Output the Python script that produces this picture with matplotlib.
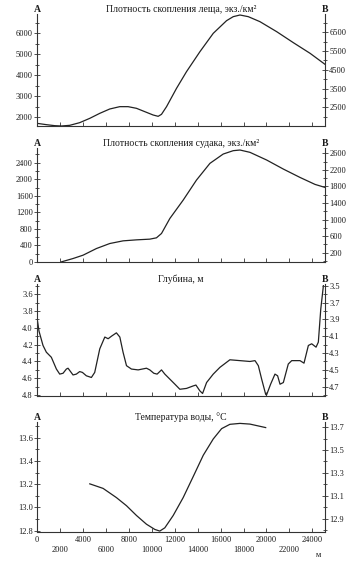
import matplotlib
matplotlib.use('Agg')
import matplotlib.pyplot as plt
from matplotlib.ticker import MultipleLocator, FixedLocator, FuncFormatter

plt.rcParams['font.family'] = ['Liberation Serif', 'DejaVu Serif']
plt.rcParams['text.color'] = '#1a1a1a'
plt.rcParams['axes.edgecolor'] = '#333333'
plt.rcParams['xtick.color'] = '#333333'
plt.rcParams['ytick.color'] = '#333333'
plt.rcParams['xtick.labelcolor'] = '#1a1a1a'
plt.rcParams['ytick.labelcolor'] = '#1a1a1a'

# Data (distance along transect, m)
bream_x = [0, 815, 1540, 2124, 2850, 3720, 4600, 5470, 6340, 7215, 7940, 8670, 9540,
           10120, 10560, 10850, 11290, 12160, 13030, 14200, 15360, 16520, 17100, 17690,
           18415, 19430, 20890, 22340, 23800, 25100]
bream_y = [1714, 1651, 1603, 1587, 1619, 1746, 1952, 2190, 2397, 2508, 2508, 2429, 2238,
           2111, 2048, 2143, 2508, 3381, 4175, 5127, 6000, 6603, 6794, 6873,
           6794, 6556, 6079, 5556, 5048, 4524]

zander_x = [2124, 3140, 4015, 5180, 6340, 7505, 8670, 9830, 10410, 10850, 11580, 12740,
            13900, 15070, 16230, 17100, 17690, 18560, 20015, 21470, 22920, 24230, 25100]
zander_y = [0, 81, 162, 323, 444, 509, 533, 550, 582, 687, 1051, 1495,
            1980, 2384, 2610, 2691, 2707, 2651, 2465, 2246, 2044, 1875, 1802]

depth_x = [0, 175, 524, 815, 1250, 1690, 1980, 2270, 2560, 2705, 3140, 3430, 3720, 3960,
           4300, 4740, 5030, 5470, 5910, 6200, 6490, 6920, 7220, 7500, 7800, 8230, 8815,
           9540, 9830, 10180, 10470, 10850, 11140, 11580, 12020, 12450, 13030, 13620,
           13850, 14200, 14430, 14780, 15360, 15940, 16810, 17690, 18560, 19000, 19290,
           19580, 19930, 20000, 20360, 20740, 20970, 21180, 21470, 21900, 22200, 22920,
           23270, 23650, 23940, 24320, 24520, 24730, 24960]
depth_y = [3.88, 4.04, 4.21, 4.29, 4.35, 4.49, 4.55, 4.54, 4.49, 4.48, 4.56, 4.55, 4.52, 4.53,
           4.57, 4.59, 4.53, 4.25, 4.11, 4.13, 4.10, 4.06, 4.11, 4.29, 4.45, 4.49, 4.50,
           4.48, 4.50, 4.54, 4.55, 4.50, 4.55, 4.61, 4.67, 4.73, 4.72, 4.69,
           4.68, 4.75, 4.78, 4.65, 4.55, 4.47, 4.38, 4.39, 4.40, 4.39, 4.45,
           4.61, 4.79, 4.80, 4.67, 4.55, 4.57, 4.67, 4.65, 4.43, 4.39, 4.39,
           4.42, 4.21, 4.19, 4.23, 4.17, 3.78, 3.50]

temp_x = [4600, 5760, 6920, 7800, 8670, 9540, 10270, 10700, 11140, 11870, 12740, 13620,
          14490, 15360, 16090, 16810, 17690, 18560, 19930]
temp_y = [13.203, 13.164, 13.085, 13.015, 12.931, 12.856, 12.811, 12.797, 12.825, 12.931,
          13.085, 13.267, 13.449, 13.589, 13.678, 13.715, 13.723, 13.717, 13.687]

titles = ['Плотность скопления леща, экз./км²',
          'Плотность скопления судака, экз./км²',
          'Глубина, м',
          'Температура воды, °С']

fig = plt.figure(figsize=(3.5, 5.64), dpi=100)

# panel geometry in pixels: (top, bottom)
W, H = 350, 564
x0, x1 = 37, 325
rows = [(14, 126), (148, 262), (284, 396), (422, 532)]

# (left ylim, left major, left minor, right ylim, right major, right minor, invert)
specs = [
    ((1587, 6921), 1000, 500, (1504, 7478), [2500, 3500, 4500, 5500, 6500], 500, False),
    ((-3, 2756), 400, 200, (-26, 2730), [200, 600, 1000, 1400, 1800, 2200, 2600], 200, False),
    ((3.48, 4.81), 0.2, 0.1, (3.48, 4.81), [3.5, 3.7, 3.9, 4.1, 4.3, 4.5, 4.7], 0.1, True),
    ((12.789, 13.735), 0.2, 0.1, (12.783, 13.745), [12.9, 13.1, 13.3, 13.5, 13.7], 0.1, False),
]
series = [(bream_x, bream_y), (zander_x, zander_y), (depth_x, depth_y), (temp_x, temp_y)]
fs_tick = 6
fs_title = 7

for i, ((top, bot), spec, (xs, ys), title) in enumerate(zip(rows, specs, series, titles)):
    lylim, lmaj, lmin, rylim, rmaj, rmin, inv = spec
    ax = fig.add_axes([x0 / W, 1 - bot / H, (x1 - x0) / W, (bot - top) / H])
    ax.plot(xs, ys, color='#222222', lw=0.9)
    ax.set_xlim(0, 25100)
    if inv:
        ax.set_ylim(lylim[1], lylim[0])
    else:
        ax.set_ylim(*lylim)
    ax.spines['top'].set_visible(False)
    ax.spines['right'].set_visible(False)
    for s in ['left', 'bottom']:
        ax.spines[s].set_linewidth(0.8)
    ax.yaxis.set_major_locator(MultipleLocator(lmaj))
    ax.yaxis.set_minor_locator(MultipleLocator(lmin))
    ax.tick_params(axis='y', which='major', direction='inout', length=4, width=0.6,
                   labelsize=fs_tick, pad=1)
    ax.tick_params(axis='y', which='minor', direction='inout', length=3, width=0.6)
    if lmaj < 1:
        ax.yaxis.set_major_formatter(FuncFormatter(lambda v, p: f'{v:.1f}'))

    # x ticks: upper row every 4000, lower row offset by 2000
    ax.xaxis.set_major_locator(FixedLocator(range(0, 25000, 4000)))
    ax.xaxis.set_minor_locator(FixedLocator(range(2000, 25000, 4000)))
    ax.tick_params(axis='x', which='both', direction='in', length=3, width=0.6,
                   labelsize=fs_tick)
    if i < 3:
        ax.tick_params(axis='x', which='both', labelbottom=False)
    else:
        ax.xaxis.set_minor_formatter(FuncFormatter(lambda v, p: f'{int(v)}'))
        ax.tick_params(axis='x', which='major', pad=3)
        ax.tick_params(axis='x', which='minor', pad=10)

    axr = ax.twinx()
    axr.set_xlim(0, 25100)
    if inv:
        axr.set_ylim(rylim[1], rylim[0])
    else:
        axr.set_ylim(*rylim)
    for s in ['top', 'left', 'bottom']:
        axr.spines[s].set_visible(False)
    axr.spines['right'].set_linewidth(0.8)
    axr.yaxis.set_major_locator(FixedLocator(rmaj))
    axr.yaxis.set_minor_locator(MultipleLocator(rmin))
    axr.tick_params(axis='y', which='major', direction='inout', length=4, width=0.6,
                    labelsize=fs_tick, pad=1)
    axr.tick_params(axis='y', which='minor', direction='inout', length=3, width=0.6)
    if lmaj < 1:
        axr.yaxis.set_major_formatter(FuncFormatter(lambda v, p: f'{v:.1f}'))

    # labels above the panel
    ytxt = 1 - (top - 5) / H
    fig.text(x0 / W, ytxt, 'А', ha='center', va='center', fontsize=fs_title, fontweight='bold')
    fig.text(x1 / W, ytxt, 'В', ha='center', va='center', fontsize=fs_title, fontweight='bold')
    fig.text((x0 + x1) / 2 / W, ytxt, title, ha='center', va='center', fontsize=fs_title)

fig.text(318 / W, 1 - 555 / H, 'м', ha='center', va='center', fontsize=fs_tick)

fig.savefig('out.png', dpi=100, facecolor='white')
